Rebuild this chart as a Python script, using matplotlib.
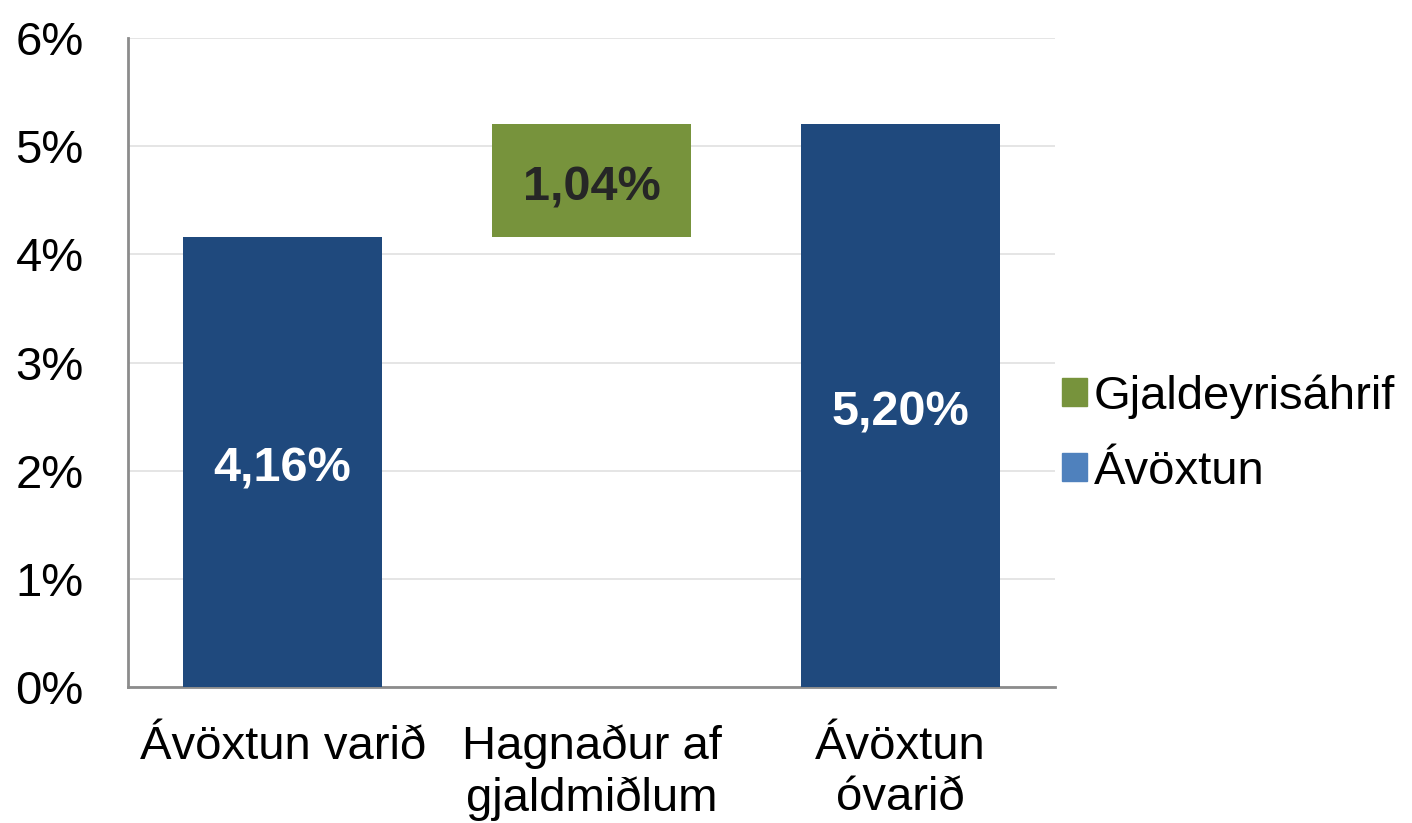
import matplotlib.pyplot as plt
from matplotlib.patches import Patch

# Waterfall data (percent)
categories = ['Ávöxtun varið', 'Hagnaður af\ngjaldmiðlum', 'Ávöxtun\nóvarið']
base_values = [4.16, 0.0, 5.20]      # Ávöxtun series
fx_bottom = [0.0, 4.16, 0.0]
fx_values = [0.0, 1.04, 0.0]         # Gjaldeyrisáhrif series
labels = ['4,16%', '1,04%', '5,20%']
yticks = [0, 1, 2, 3, 4, 5, 6]

plt.rcParams['font.family'] = ['Liberation Sans', 'DejaVu Sans']

fig = plt.figure(figsize=(14.12, 8.23), dpi=100)
ax = fig.add_axes([0.0907, 0.165, 0.6565, 0.789])

blue = '#1F497D'
green = '#77933C'
fs = 34
x = range(len(categories))

ax.bar(x, base_values, width=0.644, color=blue, zorder=3)
ax.bar(x, fx_values, bottom=fx_bottom, width=0.644, color=green, zorder=3)

# value labels (slightly below the segment middle, as in the original)
off = 0.065
ax.text(0, base_values[0] / 2 - off, labels[0], ha='center', va='center',
        color='white', fontsize=fs + 1, fontweight='bold', zorder=4)
ax.text(1, fx_bottom[1] + fx_values[1] / 2 - off, labels[1], ha='center', va='center',
        color='#262626', fontsize=fs + 1, fontweight='bold', zorder=4)
ax.text(2, base_values[2] / 2 - off, labels[2], ha='center', va='center',
        color='white', fontsize=fs + 1, fontweight='bold', zorder=4)

ax.set_xlim(-0.5, 2.5)
ax.set_ylim(0, 6)
ax.set_yticks(yticks)
ax.set_yticklabels([f'{v}%' for v in yticks])
ax.set_xticks(list(x))
ax.set_xticklabels(categories, linespacing=1.2)
ax.tick_params(axis='y', length=0, pad=32, labelsize=fs)
ax.tick_params(axis='x', length=0, pad=27, labelsize=fs)

ax.grid(axis='y', color='#e0e0e0', linewidth=1.2, zorder=0)
ax.set_axisbelow(True)
for s in ['top', 'right']:
    ax.spines[s].set_visible(False)
for s in ['left', 'bottom']:
    ax.spines[s].set_color('#8c8c8c')
    ax.spines[s].set_linewidth(2)

handles = [Patch(color=green, label='Gjaldeyrisáhrif'),
           Patch(color='#4F81BD', label='Ávöxtun')]
ax.legend(handles=handles, loc='center left', bbox_to_anchor=(0.962, 0.39),
          frameon=False, fontsize=fs, handlelength=0.52, handleheight=0.52,
          handletextpad=0.15, labelspacing=0.65)

fig.savefig('out.png', dpi=100)
